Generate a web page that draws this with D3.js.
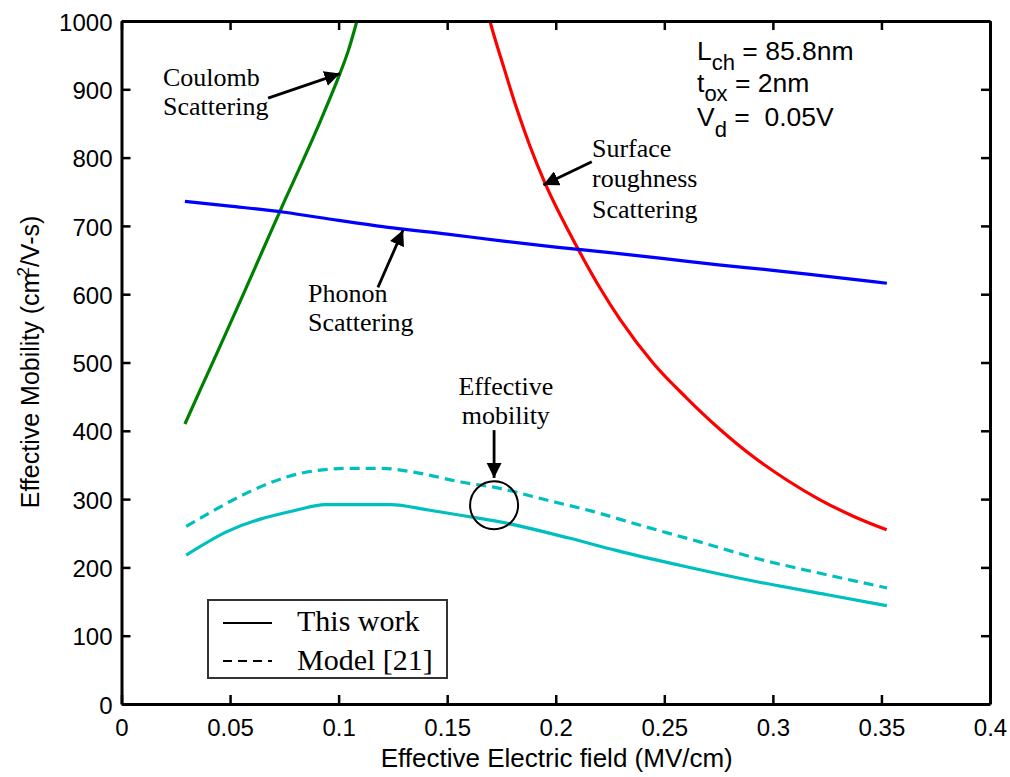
<!DOCTYPE html>
<html><head><meta charset="utf-8">
<script src="https://cdn.jsdelivr.net/npm/d3@7"></script>
<style>body{margin:0;background:#fff}svg text{white-space:pre}</style>
</head><body><svg id="c" width="1010" height="777"></svg>
<script>
// ---- data ----
const xTickValues = [0, 0.05, 0.1, 0.15, 0.2, 0.25, 0.3, 0.35, 0.4];
const xTickLabels = ["0", "0.05", "0.1", "0.15", "0.2", "0.25", "0.3", "0.35", "0.4"];
const yTickValues = [0, 100, 200, 300, 400, 500, 600, 700, 800, 900, 1000];
const yTickLabels = ["0", "100", "200", "300", "400", "500", "600", "700", "800", "900", "1000"];

// Coulomb scattering (green)
const coulomb = [[0.0292,410],[0.036,458],[0.045,521],[0.055,592],[0.065,664],[0.0753,738],[0.0822,786],[0.0914,852],[0.0968,893],[0.1006,923],[0.1045,957],[0.108,995],[0.1095,1012]];
// Surface roughness scattering (red)
const surface = [[0.1685,1015],[0.1697,1000],[0.1757,936],[0.1821,871],[0.1881,817],[0.195,763],[0.2066,688],[0.2127,652],[0.2204,609],[0.2296,563],[0.2449,499],[0.2603,448],[0.2757,402],[0.291,362],[0.3064,328],[0.3217,299],[0.337,275],[0.3524,255]];
// Phonon scattering (blue)
const phonon = [[0.0292,736],[0.05,729],[0.075,720],[0.1,708],[0.125,697],[0.15,688],[0.175,678],[0.2,669],[0.225,661],[0.25,652],[0.275,643],[0.3,635],[0.325,626],[0.3525,616]];
// Effective mobility, this work (solid cyan)
const thisWork = [[0.0298,218],[0.0483,252],[0.0807,284],[0.0937,292],[0.124,292],[0.1413,284],[0.1607,274],[0.1737,267],[0.2061,243],[0.2278,225],[0.2602,201],[0.2927,179],[0.3251,160],[0.3525,144]];
// Effective mobility, Model [21] (dashed cyan)
const model21 = [[0.0298,260],[0.0418,282],[0.0591,311],[0.0829,338],[0.1045,345],[0.1197,345],[0.137,338],[0.1564,325],[0.1737,316],[0.1953,299],[0.217,282],[0.2386,262],[0.2667,237],[0.2927,213],[0.3251,189],[0.3525,170]];

const legendLabels = ["This work", "Model [21]"];

// ---- chart ----
const svg = d3.select("#c");
const X0 = 121.5, X1 = 990, Y0 = 704, Y1 = 21;
const x = d3.scaleLinear().domain([0, 0.4]).range([X0, X1]);
const y = d3.scaleLinear().domain([0, 1000]).range([Y0, Y1]);

svg.append("defs").append("clipPath").attr("id", "plotclip")
  .append("rect").attr("x", X0).attr("y", Y1).attr("width", X1 - X0).attr("height", Y0 - Y1);
svg.select("defs").append("marker").attr("id", "ah")
  .attr("viewBox", "0 0 10 10").attr("refX", 10).attr("refY", 5)
  .attr("markerWidth", 5.5).attr("markerHeight", 5.5).attr("markerUnits", "strokeWidth")
  .attr("orient", "auto")
  .append("path").attr("d", "M0,0 L10,5 L0,10 z").attr("fill", "#000");

const line = d3.line().x(d => x(d[0])).y(d => y(d[1])).curve(d3.curveMonotoneX);
const g = svg.append("g").attr("clip-path", "url(#plotclip)");
const series = [
  {data: coulomb, color: "#008000", dash: null},
  {data: surface, color: "#ff0000", dash: null},
  {data: phonon, color: "#0000ff", dash: null},
  {data: thisWork, color: "#00bfbf", dash: null},
  {data: model21, color: "#00bfbf", dash: "10,6"}
];
series.forEach(s => {
  g.append("path").attr("d", line(s.data)).attr("fill", "none")
    .attr("stroke", s.color).attr("stroke-width", 3.2)
    .attr("stroke-dasharray", s.dash);
});

// axes
const tickFont = "Liberation Sans, Arial, sans-serif";
const axB = d3.axisBottom(x).tickValues(xTickValues).tickFormat((d, i) => xTickLabels[i]).tickSizeInner(-9).tickSizeOuter(0).tickPadding(0);
const axL = d3.axisLeft(y).tickValues(yTickValues).tickFormat((d, i) => yTickLabels[i]).tickSizeInner(-9).tickSizeOuter(0).tickPadding(0);
const axT = d3.axisTop(x).tickValues(xTickValues).tickFormat("").tickSizeInner(-9).tickSizeOuter(0);
const axR = d3.axisRight(y).tickValues(yTickValues).tickFormat("").tickSizeInner(-9).tickSizeOuter(0);

const gb = svg.append("g").attr("transform", `translate(0,${Y0})`).call(axB);
const gl = svg.append("g").attr("transform", `translate(${X0},0)`).call(axL);
const gt = svg.append("g").attr("transform", `translate(0,${Y1})`).call(axT);
const gr = svg.append("g").attr("transform", `translate(${X1},0)`).call(axR);
[gb, gl, gt, gr].forEach(a => {
  a.select(".domain").attr("stroke", "#000").attr("stroke-width", 3);
  a.selectAll(".tick line").attr("stroke", "#000").attr("stroke-width", 2.5);
  a.selectAll(".tick text").attr("font-family", tickFont).attr("font-size", 24).attr("fill", "#000");
});
gb.selectAll(".tick text").attr("y", 32).attr("dy", 0);
gl.selectAll(".tick text").attr("x", -9).attr("dy", "0.38em");

// axis labels
svg.append("text").attr("x", (X0 + X1) / 2 + 1).attr("y", 767).attr("text-anchor", "middle")
  .attr("font-family", tickFont).attr("font-size", 26).text("Effective Electric field (MV/cm)");
const yl = svg.append("text").attr("transform", "translate(39,362) rotate(-90)").attr("text-anchor", "middle")
  .attr("font-family", tickFont).attr("font-size", 25);
yl.append("tspan").text("Effective Mobility (cm");
yl.append("tspan").attr("font-size", 17).attr("dy", -10).attr("dx", -4).text("2");
yl.append("tspan").attr("dy", 10).text("/V-s)");

// parameters text
const pf = {family: tickFont, size: 26.5, sub: 22};
function paramLine(px, py, main, sub, rest, subDy) {
  const t = svg.append("text").attr("x", px).attr("y", py).attr("font-family", pf.family).attr("font-size", pf.size);
  t.append("tspan").text(main);
  t.append("tspan").attr("font-size", pf.sub).attr("dy", subDy).text(sub);
  t.append("tspan").attr("dy", -subDy).text(rest);
}
paramLine(697, 60, "L", "ch", " = 85.8nm", 10);
paramLine(697, 92, "t", "ox", " = 2nm", 9);
paramLine(697, 126, "V", "d", " =  0.05V", 11);

// annotations (serif)
const serif = "Liberation Serif, Times New Roman, serif";
function label(px, py, lines, anchor, lh) {
  const t = svg.append("text").attr("font-family", serif).attr("font-size", 26).attr("text-anchor", anchor || "start");
  lines.forEach((l, i) => t.append("tspan").attr("x", px).attr("y", py + i * lh).text(l));
}
function arrow(a, b) {
  svg.append("line").attr("x1", x(a[0])).attr("y1", y(a[1])).attr("x2", x(b[0])).attr("y2", y(b[1]))
    .attr("stroke", "#000").attr("stroke-width", 2.8).attr("marker-end", "url(#ah)");
}
label(x(0.0191), y(905), ["Coulomb", "Scattering"], "start", 29);
arrow([0.0675, 887], [0.1006, 923]);
label(x(0.0859), y(589), ["Phonon", "Scattering"], "start", 29);
arrow([0.1181, 610], [0.1297, 694]);
label(x(0.2167), y(801), ["Surface", "roughness", "Scattering"], "start", 30.5);
arrow([0.2166, 794], [0.1943, 760]);
label(x(0.177), y(452), ["Effective", "mobility"], "middle", 29);
arrow([0.1716, 401], [0.1716, 331]);
svg.append("circle").attr("cx", x(0.1716)).attr("cy", y(291)).attr("r", 24)
  .attr("fill", "none").attr("stroke", "#000").attr("stroke-width", 2);

// legend
const lg = svg.append("g");
lg.append("rect").attr("x", 208).attr("y", 600).attr("width", 239).attr("height", 78)
  .attr("fill", "#fff").attr("stroke", "#333").attr("stroke-width", 2);
[null, "9,6"].forEach((dash, i) => {
  lg.append("line").attr("x1", 223).attr("x2", 272).attr("y1", 623 + i * 38).attr("y2", 623 + i * 38)
    .attr("stroke", "#000").attr("stroke-width", 1.8).attr("stroke-dasharray", dash);
  lg.append("text").attr("x", 297).attr("y", 631 + i * 39).attr("font-family", serif).attr("font-size", 30)
    .text(legendLabels[i]);
});
</script></body></html>
